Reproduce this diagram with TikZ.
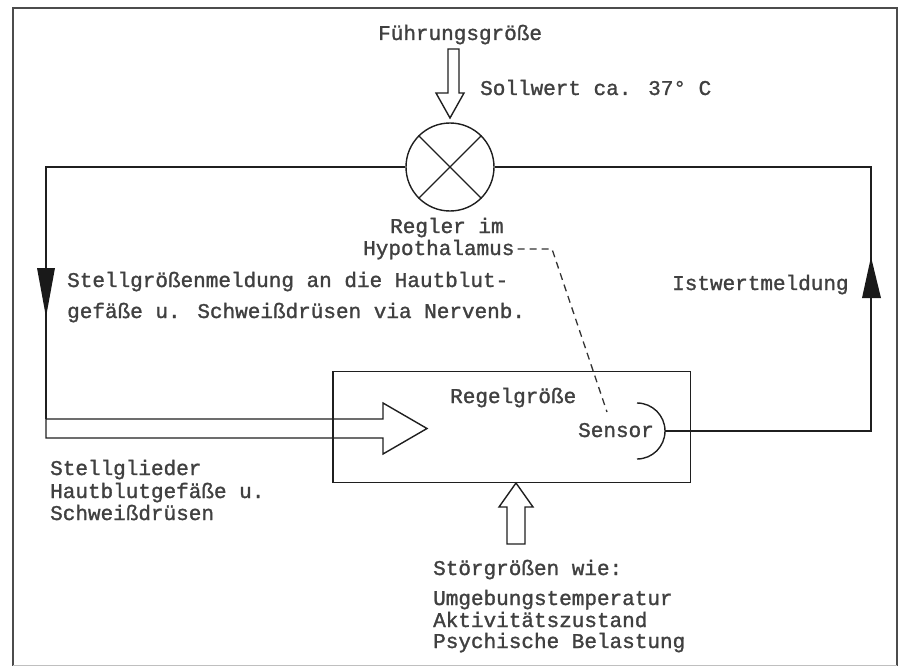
\documentclass[tikz,border=0pt]{standalone}
\usepackage{fontspec}
\newfontfamily\tw[FakeBold=1.3]{Liberation Mono}
\begin{document}
\begin{tikzpicture}[x=1pt,y=-1pt,
  txt/.style={anchor=base west, inner sep=0pt, font=\tw\fontsize{21}{22}\selectfont, text=black!75},
  ln/.style={line width=1.4pt, draw=black!88},
  hollow/.style={line width=1.4pt, draw=black!88, fill=white, line join=miter},
  tri/.style={fill=black!90}]
\useasboundingbox (0,0) rectangle (902,666);
% outer frame
\draw[line width=1.8pt, black!70] (13,666) -- (13,8) -- (897,8) -- (897,666);
\draw[line width=0.8pt, black!25] (13,665) -- (897,665);

% controller
\node[circle, draw, ln, minimum size=88pt, inner sep=0pt] (reg) at (450,167) {};
\draw[ln] (reg.45) -- (reg.225);
\draw[ln] (reg.135) -- (reg.-45);

% controlled system box
\node[draw, ln, minimum width=357pt, minimum height=111pt, anchor=north west, inner sep=0pt] (box) at (333,371) {};

% coordinates of the loop
\coordinate (tl) at (46,167);
\coordinate (tr) at (871,167);
\coordinate (sr) at (871,431);
\coordinate (sensR) at (665,431);
\coordinate (sensTop) at (637,403);

% left feedback line
\draw[ln] (reg.west) -- (tl) -- (46,419);
\fill[tri] (37,268) -- (55,268) -- (46,317) -- cycle;

% big hollow arrow (Stellglieder)
\draw[hollow] (46,419) -- (383,419) -- (383,403) -- (427,428.5) -- (383,454) -- (383,438) -- (46,438) -- cycle;
\draw[ln] (box.north west) -- (box.south west);

% sensor
\draw[ln] (sensTop) arc[start angle=90, end angle=-90, radius=28pt];
\draw[ln] (sensR) -- (sr) -- (tr) -- (reg.east);
\fill[tri] (862,298) -- (881,298) -- (871,257) -- cycle;

% top hollow arrow (Fuehrungsgroesse)
\draw[hollow] (448,49) -- (459,49) -- (459,93) -- (464,93) -- (450,118) -- (436,93) -- (448,93) -- cycle;

% bottom hollow arrow (Stoergroessen)
\draw[hollow] (507,544) -- (525,544) -- (525,507) -- (533,507) -- (516,483) -- (499,507) -- (507,507) -- cycle;

% texts
\node[txt] (fg) at (378,40) {Führungsgröße};
\node[txt] (sw) at (480,95) {Sollwert ca. 37° C};
\node[txt] (rg1) at (390,233) {Regler im};
\node[txt] (hyp) at (363,255) {Hypothalamus};
\node[txt] (sm1) at (67,287) {Stellgrößenmeldung an die Hautblut-};
\node[txt] (sm2) at (67,318) {gefäße u. Schweißdrüsen via Nervenb.};
\node[txt] (iw) at (672,290) {Istwertmeldung};
\node[txt] (rgr) at (450,403) {Regelgröße};
\node[txt] (sens) at (578,437) {Sensor};
\node[txt] (sg1) at (50,475) {Stellglieder};
\node[txt] (sg2) at (50,498) {Hautblutgefäße u.};
\node[txt] (sg3) at (50,520) {Schweißdrüsen};
\node[txt] (st0) at (433,575) {Störgrößen wie:};
\node[txt] (st1) at (433,605) {Umgebungstemperatur};
\node[txt] (st2) at (433,627) {Aktivitätszustand};
\node[txt] (st3) at (433,648) {Psychische Belastung};

% dashed link from hypothalamus to sensor
\coordinate (dk) at (552,249);
\coordinate (dsens) at (607,412);
\draw[line width=1.3pt, black!80, dash pattern=on 7pt off 5pt] ([xshift=3pt]hyp.east |- dk) -- (dk) -- (dsens);
\end{tikzpicture}
\end{document}
